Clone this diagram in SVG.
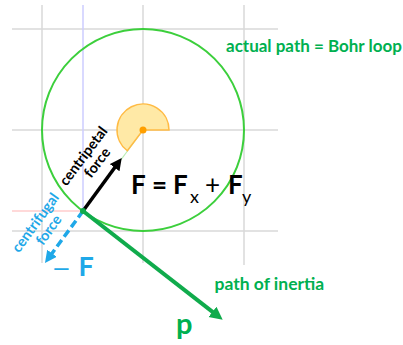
<svg xmlns="http://www.w3.org/2000/svg" width="403" height="345" viewBox="0 0 403 345">
<defs>
<style>
.grid{stroke:#d9d9d9;stroke-width:1.5;fill:none}
.lbl{font-family:Lato,"Liberation Sans",sans-serif;font-weight:bold}
.green{fill:#00b050}
.blue{fill:#1fa8e8}
</style>
<marker id="hGreen" markerUnits="userSpaceOnUse" markerWidth="14" markerHeight="14" refX="5" refY="6.5" orient="auto"><path d="M0,0 L13,6.5 L0,13 z" fill="#10ab4c"/></marker>
<marker id="hBlack" markerUnits="userSpaceOnUse" markerWidth="14" markerHeight="14" refX="4" refY="6" orient="auto"><path d="M0,0 L12,6 L0,12 z" fill="#000"/></marker>
<marker id="hBlue" markerUnits="userSpaceOnUse" markerWidth="14" markerHeight="14" refX="4" refY="6" orient="auto"><path d="M0,0 L12,6 L0,12 z" fill="#1fa8e8"/></marker>
</defs>
<rect width="403" height="345" fill="#fff"/>
<g id="grid">
<line class="grid" x1="12" y1="29" x2="278" y2="29"/>
<line class="grid" x1="12" y1="130" x2="278" y2="130"/>
<line class="grid" x1="12" y1="231" x2="278" y2="231"/>
<line class="grid" x1="42" y1="5" x2="42" y2="263"/>
<line class="grid" x1="143" y1="5" x2="143" y2="263"/>
<line class="grid" x1="244" y1="5" x2="244" y2="265"/>
<line x1="83" y1="5" x2="83" y2="211" stroke="#ccccff" stroke-width="1.5"/>
<line x1="12" y1="211" x2="83" y2="211" stroke="#ffcccc" stroke-width="1.5"/>
</g>
<g id="orbit">
<circle cx="143" cy="130" r="101" fill="none" stroke="#3ccf3c" stroke-width="2"/>
</g>
<g id="nucleus">
<line x1="143" y1="130" x2="83" y2="211" stroke="#b8ecb2" stroke-width="1.2"/>
<path d="M143,130 L169,130 A26,26 0 1 0 127.35,150.76 Z" fill="#ffe9a6" stroke="#ffbb44" stroke-width="1.5"/>
<circle cx="143" cy="130" r="3.5" fill="#ff9f00"/>
</g>
<g id="connectors">
<line x1="83" y1="211" x2="216.4" y2="314.9" stroke="#10ab4c" stroke-width="4" marker-end="url(#hGreen)"/>
<line x1="83" y1="211" x2="117" y2="164.5" stroke="#000" stroke-width="3.5" marker-end="url(#hBlack)"/>
<line x1="83" y1="211" x2="49.7" y2="256.5" stroke="#1fa8e8" stroke-width="3.5" stroke-dasharray="8 4" marker-end="url(#hBlue)"/>
<circle cx="83" cy="211" r="3" fill="#10ab4c"/>
</g>
<g id="label-bohr"><text class="lbl green" x="226" y="52" font-size="17">actual path = Bohr loop</text></g>
<g id="label-inertia"><text class="lbl green" x="214.5" y="290" font-size="17.5">path of inertia</text></g>
<g id="label-p"><text class="lbl green" x="176" y="334" font-size="29">p</text></g>
<g id="label-formula"><text class="lbl" x="131" y="194" font-size="26" fill="#000">F<tspan x="152">=</tspan><tspan x="173">F</tspan><tspan x="190" y="203" font-size="18" font-weight="normal">x</tspan><tspan x="205" y="194" font-weight="normal">+</tspan><tspan x="228">F</tspan><tspan x="242" y="203" font-size="18" font-weight="normal">y</tspan></text></g>
<g id="label-minusF"><text class="lbl blue" x="53" y="275" font-size="21">—<tspan x="78.5" y="276" font-size="27">F</tspan></text></g>
<g id="label-centripetal" transform="translate(87.3,159) rotate(-53)"><text class="lbl" font-size="14.5" text-anchor="middle" fill="#000"><tspan x="0" y="0">centripetal</tspan><tspan x="3" y="15">force</tspan></text></g>
<g id="label-centrifugal" transform="translate(39.3,225.6) rotate(-54)"><text class="lbl blue" font-size="14.5" text-anchor="middle"><tspan x="0" y="0">centrifugal</tspan><tspan x="2" y="15">force</tspan></text></g>
</svg>
